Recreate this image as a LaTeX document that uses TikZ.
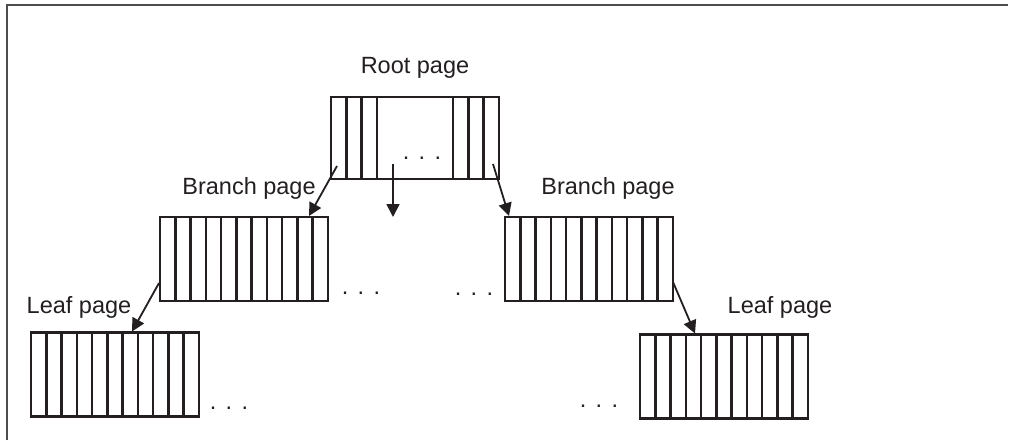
\documentclass[tikz,border=0pt]{standalone}
\usepackage{fontspec}
\setmainfont{Liberation Sans}
\usetikzlibrary{arrows.meta,calc,positioning}
\definecolor{ink}{RGB}{35,31,32}

\begin{document}
\begin{tikzpicture}[x=1pt,y=-1pt]

        % Setup the styles for the pages
        \tikzset{page style/.style={draw=ink,
                                    line width=2.8pt,
                                    minimum width=168pt,
                                    minimum height=84pt,
                                    inner sep=0pt,
                                    outer sep=0pt},
                 slot style/.style={draw=ink, line width=2.5pt},
                 link style/.style={draw=ink, line width=1.8pt,
                                    -{Triangle[length=13pt,width=13pt]}},
                 caption style/.style={text=ink,
                                       font=\fontsize{23.5}{28}\selectfont},
                 dots style/.style={caption style, anchor=base}}
        \useasboundingbox (0,0) rectangle (1009,440);

        % The open frame
        \draw[ink!80, line width=1.5pt] (7,440) -- (7,5) -- (1008,5);

        % Draw the pages
        \node[page style, minimum height=82pt] at (415, 138)   (root)   {};
        \node[page style] at (244, 259)   (lb)   {};
        \node[page style] at (589, 259)   (rb)   {};
        \node[page style] at (115, 374.5) (ll)   {};
        \node[page style] at (724, 376.5) (rl)   {};

        % Slots in the pages
        \foreach \i in {1,2,3,8,9,10}
            \draw[slot style] ($(root.north west)!\i/11!(root.north east)$) -- ($(root.south west)!\i/11!(root.south east)$);
        \foreach \p in {lb,rb,ll,rl}
            \foreach \i in {1,...,10}
                \draw[slot style] ($(\p.north west)!\i/11!(\p.north east)$) -- ($(\p.south west)!\i/11!(\p.south east)$);

        % Captions
        \node[caption style] at (415, 68)  (rootcap) {Root page};
        \node[caption style] at (249, 188) (lbcap)   {Branch page};
        \node[caption style] at (608, 188) (rbcap)   {Branch page};
        \node[caption style] at (79, 307)  (llcap)   {Leaf page};
        \node[caption style] at (780, 307) (rlcap)   {Leaf page};

        % Dots
        \node[dots style] at (422, 159.5) (rootdots) {.\hspace{0.4em}.\hspace{0.4em}.};
        \node[dots style] at (361, 294.5) (lbdots)   {.\hspace{0.4em}.\hspace{0.4em}.};
        \node[dots style] at (474, 295.5) (rbdots)   {.\hspace{0.4em}.\hspace{0.4em}.};
        \node[dots style] at (229, 409.5) (lldots)   {.\hspace{0.4em}.\hspace{0.4em}.};
        \node[dots style] at (599, 407.5) (rldots)   {.\hspace{0.4em}.\hspace{0.4em}.};

        \coordinate (mid) at ($(root.south)+(-22,38)$);

        % Connect the pages with arrows
        \draw[link style] ($(root.south west)+(6,-13)$) -- ($(lb.north east)+(-19,-1)$);
        \draw[link style] ($(root.south)+(-22,-15)$) -- (mid);
        \draw[link style] ($(root.south east)+(-6,-15)$) -- ($(rb.north west)+(4,-1)$);
        \draw[link style] ($(lb.south west)+(-1,-18)$) -- ($(ll.north west)+(101,-1)$);
        \draw[link style] ($(rb.south east)+(0,-19)$) -- ($(rl.north west)+(55,-1)$);
    \end{tikzpicture}
\end{document}
